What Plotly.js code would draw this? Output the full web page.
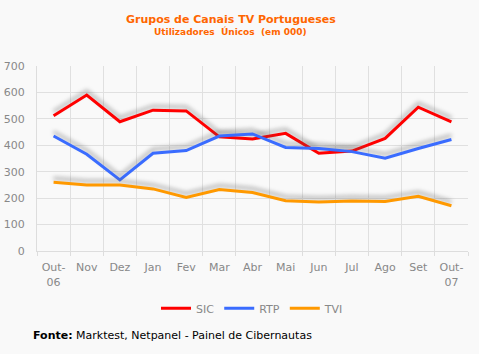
<!DOCTYPE html>
<html><head><meta charset="utf-8">
<script src="https://cdn.plot.ly/plotly-3.0.1.min.js"></script>
<style>
html,body{margin:0;padding:0;background:#f9f9f9;}
#chart .scatterlayer path.js-line{filter:drop-shadow(0px -4px 2px rgba(90,90,90,0.45));}
</style>
</head><body>
<div id="chart" style="width:479px;height:354px;"></div>
<script>
const months = ["Out-<br>06","Nov","Dez","Jan","Fev","Mar","Abr","Mai","Jun","Jul","Ago","Set","Out-<br>07"];
const sic = [512,590,489,533,530,432,424,445,370,378,426,544,489];
const rtp = [435,366,269,370,380,435,443,392,388,376,351,388,422];
const tvi = [260,250,250,235,203,233,221,190,185,189,187,207,171];
const seriesNames = ["SIC","RTP","TVI"];
const colors = ["#ff0000","#3a6cff","#ff9900"];
const allSeries = [sic, rtp, tvi];

const font = "DejaVu Sans, Verdana, sans-serif";
const traces = allSeries.map((s,i)=>({
  x: months, y: s, type: "scatter", mode: "lines", name: seriesNames[i],
  line: {color: colors[i], width: 3}
}));

const layout = {
  width: 479, height: 354,
  margin: {l: 37, r: 11, t: 66, b: 103},
  paper_bgcolor: "#f9f9f9", plot_bgcolor: "#f9f9f9",
  font: {family: font, size: 11, color: "#888"},
  showlegend: true,
  legend: {orientation: "h", x: 0.5, xanchor: "center", y: -0.31, yanchor: "middle",
           font: {family: font, size: 11, color: "#888"}, bgcolor: "rgba(0,0,0,0)", itemwidth: 30, tracegroupgap: 0},
  xaxis: {type: "category", range: [-0.5, 12.5], tickson: "boundaries", showgrid: true, gridcolor: "#e0e0e0", gridwidth: 1,
          ticks: "outside", ticklen: 4, tickcolor: "#ddd", showline: true, linecolor: "#ddd", linewidth: 1,
          ticklabelstandoff: 6,
          tickfont: {family: font, size: 11, color: "#888"}, fixedrange: true, zeroline: false},
  yaxis: {range: [0, 700], dtick: 100, showgrid: true, gridcolor: "#e0e0e0", gridwidth: 1,
          showline: true, linecolor: "#ddd", ticks: "", zeroline: false,
          tickfont: {family: font, size: 11, color: "#888"}, ticklabelstandoff: 9, fixedrange: true},
  annotations: [
    {text: "<b>Grupos de Canais TV Portugueses</b>", xref: "paper", yref: "paper", x: 0.45, y: 1, yshift: 47,
     xanchor: "center", yanchor: "middle", showarrow: false, font: {family: font, size: 11, color: "#ff6600"}},
    {text: "<b>Utilizadores  Únicos  (em 000)</b>", xref: "paper", yref: "paper", x: 0.45, y: 1, yshift: 35,
     xanchor: "center", yanchor: "middle", showarrow: false, font: {family: font, size: 9, color: "#ff6600"}},
    {text: "<b>Fonte:</b> Marktest, Netpanel - Painel de Cibernautas", xref: "paper", yref: "paper",
     x: 0, xshift: -6, y: 0, yshift: -84, xanchor: "left", yanchor: "middle", showarrow: false,
     font: {family: font, size: 11, color: "#000"}}
  ]
};
Plotly.newPlot("chart", traces, layout, {displayModeBar: false, staticPlot: true});
</script>
</body></html>
